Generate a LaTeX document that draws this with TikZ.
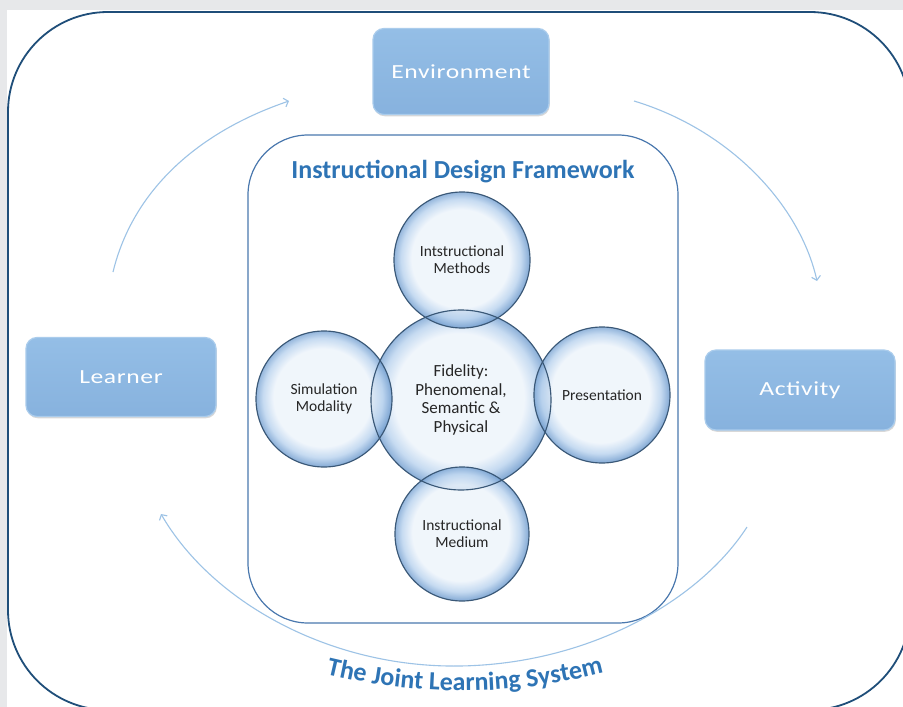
\documentclass[tikz,border=0pt]{standalone}
\usepackage{fontspec}
\setmainfont{Carlito}
\newfontfamily\boxfont[FakeStretch=1.28, LetterSpace=3]{Carlito}
\usetikzlibrary{arrows.meta,decorations.text,shadows}
\definecolor{bggray}{HTML}{E7E8EA}
\definecolor{navy}{HTML}{1F4E79}
\definecolor{frameblue}{HTML}{4A78AE}
\definecolor{titleblue}{HTML}{2E74B5}
\definecolor{arrowblue}{HTML}{9DC3E6}
\definecolor{boxtop}{HTML}{94BEE6}
\definecolor{boxbot}{HTML}{87B2DE}
\definecolor{boxedge}{HTML}{AACCEC}
\definecolor{circstroke}{HTML}{3A5877}
\definecolor{bubin}{HTML}{EDF4FB}
\definecolor{bubmid}{HTML}{B8D2EE}
\definecolor{bubout}{HTML}{6E9BCE}
\definecolor{textgray}{HTML}{262626}
\pgfdeclareradialshading{bubble}{\pgfpoint{-0.8bp}{0.8bp}}{color(0bp)=(bubin); color(18bp)=(bubin); color(22bp)=(bubmid); color(25bp)=(bubout); color(50bp)=(bubout)}
\tikzset{
  bluebox/.style={rounded corners=11pt, top color=boxtop, bottom color=boxbot,
    draw=boxedge, line width=1.2pt, text=white, inner sep=0pt,
    font=\boxfont\fontsize{20}{24}\selectfont,
    drop shadow={shadow xshift=0.8pt, shadow yshift=-1.8pt, opacity=0.25, fill=black!60}},
  bubblenode/.style={circle, minimum size=#1, inner sep=0pt, shade, shading=bubble,
    fill opacity=0.8, text opacity=1, text=textgray, align=center},
  smalltext/.style={font=\fontsize{15.5}{17}\selectfont},
  circline/.style={draw=circstroke, line width=1.15pt},
  flow/.style={draw=arrowblue, line width=1.1pt, -{Straight Barb[length=4pt,width=9pt]}},
  titletext/.style={font=\bfseries\fontsize{26}{30}\selectfont, text=titleblue}
}
\begin{document}
\begin{tikzpicture}[x=1pt,y=-1pt]
\useasboundingbox (0,0) rectangle (903,707);
\fill[bggray] (0,0) rectangle (903,707);
\fill[white] (7,10) rectangle (903,707);
\begin{scope}
  \clip (0,0) rectangle (903,707);
  \draw[navy, line width=1.8pt, rounded corners=100pt] (8,12) rectangle (910,710);
\end{scope}

% inner framework
\node[draw=frameblue, line width=1.2pt, rounded corners=60pt, minimum width=430pt,
      minimum height=488pt, inner sep=0pt] (frame) at (463,379) {};
\node[titletext, anchor=base] (title) at (463,178) {Instructional Design Framework};

% boxes
\node[bluebox, minimum width=176pt, minimum height=86pt] (env) at (461,71.5) {Environment};
\node[bluebox, minimum width=190pt, minimum height=79pt] (learner) at (121,377) {Learner};
\node[bluebox, minimum width=190pt, minimum height=80pt] (activity) at (800,390) {Activity};

% circles
\node[bubblenode=180pt, font=\fontsize{17}{18.5}\selectfont] (fid) at (461,400)
  {Fidelity:\\Phenomenal,\\Semantic \&\\Physical};
\node[bubblenode=136pt, smalltext] (methods) at (462,260) {Intstructional\\Methods};
\node[bubblenode=136pt, smalltext] (sim) at (324,399) {Simulation\\Modality};
\node[bubblenode=136pt, smalltext] (pres) at (602,395) {Presentation};
\node[bubblenode=134pt, smalltext] (medium) at (462,534) {Instructional\\Medium};
\draw[circline] (fid.center) circle (90);
\draw[circline] (methods.center) circle (68);
\draw[circline] (sim.center) circle (68);
\draw[circline] (pres.center) circle (68);
\draw[circline] (medium.center) circle (67);

% cycle arrows
\coordinate (a1s) at (113,272);
\coordinate (a1e) at (289,101);
\draw[flow] (a1s) .. controls (133,190) and (198,132) .. (a1e);
\coordinate (a2s) at (634,101);
\coordinate (a2e) at (817,281);
\draw[flow] (a2s) .. controls (730,130) and (800,205) .. (a2e);
\coordinate (a3s) at (747,527);
\coordinate (a3m) at (460,666);
\coordinate (a3e) at (161,514);
\draw[flow] (a3s) .. controls (700,600) and (590,664) .. (a3m)
                  .. controls (330,668) and (212,602) .. (a3e);

% curved caption
\coordinate (ts) at (310,670);
\coordinate (te) at (620,668);
\path[decorate, decoration={text along path, text align=center,
   text={|\bfseries\fontsize{26}{30}\selectfont\color{titleblue}|The Joint Learning System}}]
   (ts) .. controls (413,698) and (518,698) .. (te);
\end{tikzpicture}
\end{document}
